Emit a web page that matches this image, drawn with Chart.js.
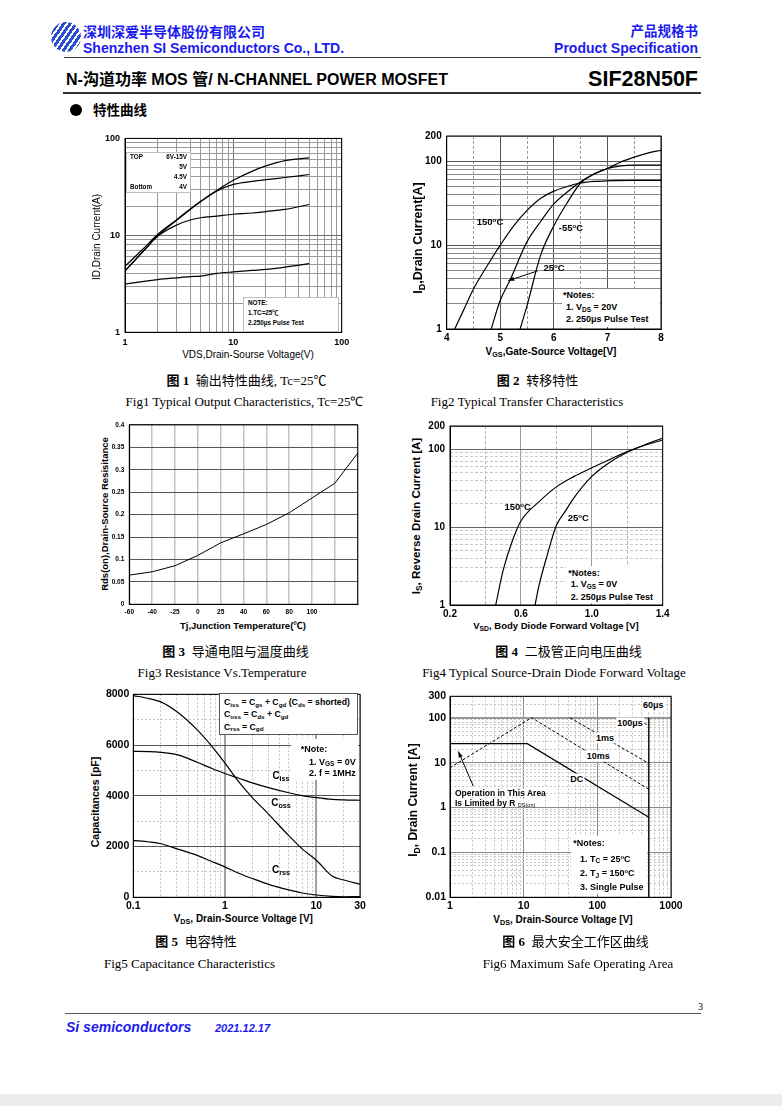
<!DOCTYPE html>
<html>
<head>
<meta charset="utf-8">
<script src="https://cdn.jsdelivr.net/npm/chart.js@4.4.1/dist/chart.umd.min.js"></script>
<style>
  body { margin: 0; background: #fff; }
  #page { position: relative; width: 782px; height: 1106px; overflow: hidden; font-family: 'Liberation Sans', Arial, 'Noto Sans CJK SC', sans-serif; color: #000; }
  sub { font-size: 0.72em; vertical-align: baseline; position: relative; top: 0.3em; }
  sup { font-size: 0.65em; vertical-align: baseline; position: relative; top: -0.5em; }
</style>
</head>
<body>
<div id="page"></div>
<script>
// ---- data ----
// Fig1 output characteristics (log-log)
const fig1Vds = [1, 1.5, 2, 3, 4, 5, 7, 10, 15, 20, 30, 50];
const fig1Id6V15V = [4.8, 7.4, 10.2, 14.5, 18.7, 22.5, 29, 37, 46, 52, 59, 63];
const fig1Id5V = [4.3, 7.0, 9.9, 14.3, 18.5, 22.3, 28.5, 33.5, 36, 37.5, 39.5, 42.4];
const fig1Id45V = [4.3, 7.0, 9.8, 12.8, 14.4, 15.2, 15.8, 16.5, 17.0, 17.6, 18.5, 20.8];
const fig1Id4V = [3.14, 3.35, 3.5, 3.65, 3.75, 3.8, 4.05, 4.2, 4.35, 4.45, 4.7, 5.1];
const fig1Ticks = [1, 10, 100];

// Fig2 transfer characteristics
const fig2Vgs150 = [4.15, 4.3, 4.5, 4.75, 5, 5.25, 5.5, 5.75, 6, 6.25, 6.5, 6.75, 7, 7.5, 8];
const fig2Id150 = [1, 1.6, 3.0, 5.6, 10, 17, 26, 36, 44, 50, 55, 57.5, 58.5, 59, 59];
const fig2Vgs25 = [4.83, 5, 5.18, 5.5, 5.75, 6, 6.25, 6.5, 6.75, 7, 7.25, 7.5, 8];
const fig2Id25 = [1, 2.2, 3.8, 11, 19, 31, 43, 57, 71, 82, 88, 90, 90];
const fig2VgsM55 = [5.37, 5.5, 5.75, 6, 6.25, 6.5, 6.75, 7, 7.25, 7.5, 7.75, 8];
const fig2IdM55 = [1, 1.9, 7.5, 17, 32, 55, 70, 82, 98, 112, 125, 135];
const fig2XTicks = [4, 5, 6, 7, 8];
const fig2XHalf = [4.5, 5.5, 6.5, 7.5];
const fig2YTicks = [1, 10, 100, 200];
const fig2ArrowV = [5.70, 5.15];
const fig2ArrowI = [4.94, 3.77];

// Fig3 resistance vs temperature
const fig3Temps = ['-60', '-40', '-25', '0', '25', '40', '60', '80', '100', '', ''];
const fig3Rds = [0.065, 0.0725, 0.086, 0.109, 0.137, 0.157, 0.178, 0.204, 0.237, 0.270, 0.337];
const fig3YTicks = [0, 0.05, 0.1, 0.15, 0.2, 0.25, 0.3, 0.35, 0.4];

// Fig4 body diode forward voltage
const fig4Vsd150 = [0.458, 0.5, 0.55, 0.6, 0.7, 0.8, 0.9, 1.0, 1.1, 1.2, 1.3, 1.4];
const fig4Is150 = [1, 2.8, 6.5, 12, 21, 33, 45, 58, 74, 94, 113, 132];
const fig4Vsd25 = [0.68, 0.7, 0.75, 0.8, 0.85, 0.9, 1.0, 1.1, 1.2, 1.25, 1.3, 1.4];
const fig4Is25 = [1, 1.7, 4.5, 10.5, 16, 24, 45, 68, 92, 103, 115, 140];
const fig4XTicks = [0.2, 0.6, 1.0, 1.4];
const fig4XMinor = [0.4, 0.8, 1.2];
const fig4YTicks = [1, 10, 100, 200];

// Fig5 capacitance
const fig5Vds = [0.1, 0.15, 0.2, 0.3, 0.5, 0.7, 1, 1.4, 2, 3, 5, 7, 10, 15, 20, 30];
const fig5Ciss = [5750, 5740, 5710, 5620, 5320, 5100, 4880, 4700, 4510, 4320, 4120, 4010, 3930, 3860, 3840, 3825];
const fig5Coss = [7950, 7830, 7700, 7310, 6600, 6010, 5300, 4580, 3930, 3280, 2430, 1910, 1460, 830, 680, 520];
const fig5Crss = [2240, 2180, 2110, 1910, 1650, 1430, 1200, 960, 740, 510, 290, 170, 90, 35, 20, 25];
const fig5XTicks = [0.1, 1, 10, 30];
const fig5YTicks = [0, 2000, 4000, 6000, 8000];
const fig5YMinor = [1000, 3000, 5000, 7000];

// Fig6 safe operating area
const fig6DcV = [1, 11.2, 500];
const fig6DcI = [26.5, 26.5, 0.61];
const fig6Ms10V = [1, 12.8, 500];
const fig6Ms10I = [7.7, 100, 2.56];
const fig6Ms1V = [42.5, 500];
const fig6Ms1I = [100, 9.6];
const fig6Us100V = [330, 500];
const fig6Us100I = [100, 66];
const fig6Us60V = [500, 500];
const fig6Us60I = [100, 0.01];
const fig6ArrowV = [2.07, 1.3];
const fig6ArrowI = [3.0, 17.7];
const fig6XTicks = [1, 10, 100, 1000];
const fig6YTicks = [0.01, 0.1, 1, 10, 100, 300];

// ---- helpers ----
const FONT = "'Liberation Sans', Arial, sans-serif";
const page = document.getElementById('page');
const has = (arr, v) => arr.some(a => Math.abs(a - v) <= 1e-9 * Math.max(1, Math.abs(a)));

function el(tag, css, html) {
  const d = document.createElement(tag);
  d.style.cssText = css;
  if (html != null) d.innerHTML = html;
  page.appendChild(d);
  return d;
}
function txt(x, y, html, css, anchor) {
  const tr = anchor === 'c' ? 'translate(-50%,-50%)' : anchor === 'r' ? 'translate(-100%,-50%)' : 'translate(0,-50%)';
  return el('div', `position:absolute;left:${x}px;top:${y}px;white-space:nowrap;line-height:1;transform:${tr};${css || ''}`, html);
}
function vtxt(x, y, html, css) {
  return el('div', `position:absolute;left:${x}px;top:${y}px;white-space:nowrap;line-height:1;transform:translate(-50%,-50%) rotate(-90deg);${css || ''}`, html);
}
function box(x, y, w, h, css) {
  return el('div', `position:absolute;left:${x}px;top:${y}px;width:${w}px;height:${h}px;box-sizing:border-box;${css || ''}`);
}

function logGrid(lo, hi) {
  const out = [];
  const e0 = Math.floor(Math.log10(lo) + 1e-9), e1 = Math.floor(Math.log10(hi) + 1e-9);
  for (let e = e0; e <= e1; e++) {
    for (let m = 1; m <= 9; m++) {
      const v = +(m * Math.pow(10, e)).toPrecision(6);
      if (v >= lo * (1 - 1e-9) && v <= hi * (1 + 1e-9)) out.push(v);
    }
  }
  return out;
}
const without = (arr, rm) => arr.filter(v => !has(rm, v));

function series(xs, ys, extra) {
  return Object.assign({
    data: xs.map((x, i) => ({ x: x, y: ys[i] })),
    borderColor: '#000', borderWidth: 1.2, pointRadius: 0, fill: false, tension: 0
  }, extra || {});
}
const smooth = { cubicInterpolationMode: 'monotone' };

function axisCfg(o) {
  return {
    type: o.type, position: o.pos, min: o.min, max: o.max,
    afterBuildTicks: s => { s.ticks = o.grid.map(v => ({ value: v })); },
    ticks: {
      autoSkip: false, maxRotation: 0, minRotation: 0, padding: o.pad, color: '#000',
      font: { family: FONT, size: o.fs, weight: 'bold' },
      callback: v => (has(o.labels, v) ? (o.fmt ? o.fmt(v) : String(v)) : '')
    },
    grid: {
      drawTicks: false,
      color: c => (c.tick && o.major && has(o.major, c.tick.value) ? o.majorColor : o.color),
      lineWidth: c => (c.tick && o.major && has(o.major, c.tick.value) ? (o.majorWidth || 1) : (o.width || 1))
    },
    border: { display: true, color: '#000', width: 1 },
    title: { display: false }
  };
}
function minorCfg(o) {
  return {
    type: o.type, position: o.pos, min: o.min, max: o.max, display: true,
    afterBuildTicks: s => { s.ticks = o.grid.map(v => ({ value: v })); },
    afterFit: s => { if (s.isHorizontal()) s.height = 0; else s.width = 0; },
    ticks: { display: false },
    grid: { drawTicks: false, color: o.color, lineWidth: 1 },
    border: { display: false, dash: o.dash || [2, 2] }
  };
}

const framePlugin = {
  id: 'frame',
  afterDatasetsDraw(chart) {
    const a = chart.chartArea, ctx = chart.ctx;
    ctx.save();
    ctx.strokeStyle = '#000';
    ctx.lineWidth = 1;
    ctx.strokeRect(a.left, a.top, a.right - a.left, a.bottom - a.top);
    ctx.restore();
  }
};
const arrowPlugin = {
  id: 'arrowHead',
  afterDatasetsDraw(chart) {
    const ctx = chart.ctx;
    chart.data.datasets.forEach((ds, i) => {
      if (!ds.arrowHead) return;
      const pts = chart.getDatasetMeta(i).data;
      const a = pts[pts.length - 2], b = pts[pts.length - 1];
      const ang = Math.atan2(b.y - a.y, b.x - a.x), L = 6, W = 2.2;
      const c = Math.cos(ang), s = Math.sin(ang);
      ctx.save();
      ctx.fillStyle = '#000';
      ctx.beginPath();
      ctx.moveTo(b.x, b.y);
      ctx.lineTo(b.x - L * c + W * s, b.y - L * s - W * c);
      ctx.lineTo(b.x - L * c - W * s, b.y - L * s + W * c);
      ctx.closePath();
      ctx.fill();
      ctx.restore();
    });
  }
};

function makeChart(g, cfg) {
  const w = g.box.r - g.box.l, h = g.box.b - g.box.t;
  const c = el('canvas', `position:absolute;left:${g.box.l}px;top:${g.box.t}px;width:${w}px;height:${h}px;`);
  c.width = w; c.height = h;
  const xs = g.box.b - g.area.B, ys = g.area.L - g.box.l;
  Object.values(cfg.options.scales).forEach(s => {
    if (!s.afterFit) s.afterFit = sc => { if (sc.isHorizontal()) sc.height = xs; else sc.width = ys; };
  });
  cfg.options.layout = { padding: { left: 0, bottom: 0, top: g.area.T - g.box.t, right: g.box.r - g.area.R } };
  cfg.options.responsive = false;
  cfg.options.animation = false;
  cfg.options.plugins = { legend: { display: false }, tooltip: { enabled: false } };
  cfg.plugins = [framePlugin, arrowPlugin];
  return new Chart(c, cfg);
}

// ---- page header ----
el('div', 'position:absolute;left:51px;top:22px;width:30px;height:30px;border-radius:50%;background:repeating-linear-gradient(125deg,#2b4fd0 0 3px,#ffffff 3px 5px);');
txt(83, 31, '深圳深爱半导体股份有限公司', "font-family:'Noto Sans CJK SC';font-weight:700;font-size:14px;color:#1b1bf0;");
txt(83, 47.5, 'Shenzhen SI Semiconductors Co., LTD.', 'font-weight:bold;font-size:14px;color:#1b1bf0;');
txt(698, 31, '产品规格书', "font-family:'Noto Sans CJK SC';font-weight:700;font-size:13.5px;color:#1b1bf0;", 'r');
txt(698, 48, 'Product Specification', 'font-weight:bold;font-size:14px;color:#1b1bf0;', 'r');
box(64, 56.5, 637, 1.3, 'background:#333;');
txt(66, 80, 'N-沟道功率 MOS 管/ N-CHANNEL POWER MOSFET', "font-weight:bold;font-size:16px;font-family:'Liberation Sans','Noto Sans CJK SC';");
txt(698, 80, 'SIF28N50F', 'font-weight:bold;font-size:21.5px;', 'r');
box(63, 91.5, 638, 2, 'background:#333;');
box(70, 104, 12, 12, 'background:#000;border-radius:50%;');
txt(93, 110, '特性曲线', "font-family:'Noto Sans CJK SC';font-weight:700;font-size:13.5px;");

// ---- Fig1 ----
makeChart({ box: { l: 100, t: 128, r: 356, b: 348 }, area: { L: 125, T: 137.7, R: 341.7, B: 332.3 } }, {
  type: 'line',
  data: { datasets: [
    series(fig1Vds, fig1Id6V15V, smooth), series(fig1Vds, fig1Id5V, smooth),
    series(fig1Vds, fig1Id45V, smooth), series(fig1Vds, fig1Id4V, smooth)
  ] },
  options: { scales: {
    x: axisCfg({ type: 'logarithmic', pos: 'bottom', min: 1, max: 100, grid: logGrid(1, 100), major: fig1Ticks, labels: fig1Ticks, fs: 9, pad: 5, color: '#999', majorColor: '#707070' }),
    y: axisCfg({ type: 'logarithmic', pos: 'left', min: 1, max: 100, grid: logGrid(1, 100), major: fig1Ticks, labels: fig1Ticks, fs: 9, pad: 5, color: '#999', majorColor: '#707070' })
  } }
});
vtxt(97, 237, 'ID,Drain Current(A)', 'font-size:10px;');
txt(248, 355, 'VDS,Drain-Sourse Voltage(V)', 'font-size:10px;', 'c');
box(125.7, 151.7, 65.3, 41.6, 'background:#fff;border:1px solid #bdbdbd;');
const lgS = 'font-weight:bold;font-size:6.3px;';
txt(130, 157, 'TOP', lgS); txt(187, 157, '6V-15V', lgS, 'r');
txt(187, 166.5, '5V', lgS, 'r'); txt(187, 176.5, '4.5V', lgS, 'r');
txt(130, 186.5, 'Bottom', lgS); txt(187, 186.5, '4V', lgS, 'r');
box(243.3, 296.7, 95.7, 35, 'background:#fff;border:1px solid #bdbdbd;');
txt(248, 303, 'NOTE:', lgS); txt(248, 312.5, '1.TC=25℃', lgS); txt(248, 323, '2.250μs Pulse Test', lgS);

// ---- Fig2 ----
makeChart({ box: { l: 425, t: 125, r: 672, b: 345 }, area: { L: 446.7, T: 133.3, R: 661, B: 329 } }, {
  type: 'line',
  data: { datasets: [
    series(fig2Vgs150, fig2Id150, smooth), series(fig2Vgs25, fig2Id25, smooth), series(fig2VgsM55, fig2IdM55, smooth),
    series(fig2ArrowV, fig2ArrowI, { borderWidth: 1, arrowHead: true })
  ] },
  options: { scales: {
    x: axisCfg({ type: 'linear', pos: 'bottom', min: 4, max: 8, grid: fig2XTicks, major: fig2XTicks, labels: fig2XTicks, fs: 10, pad: 3, color: '#555', majorColor: '#555' }),
    x2: minorCfg({ type: 'linear', pos: 'bottom', min: 4, max: 8, grid: fig2XHalf, color: '#9a9a9a', dash: [3, 2] }),
    y: axisCfg({ type: 'logarithmic', pos: 'left', min: 1, max: 200, grid: logGrid(1, 200), major: [1, 10, 100], labels: fig2YTicks, fs: 10, pad: 5, color: '#8a8a8a', majorColor: '#555' })
  } }
});
vtxt(418.3, 238, 'I<sub>D</sub>,Drain Current[A]', 'font-weight:bold;font-size:12.5px;');
txt(551, 351.7, 'V<sub>GS</sub>,Gate-Source Voltage[V]', 'font-weight:bold;font-size:10px;', 'c');
const lb = 'font-weight:bold;font-size:9.5px;';
txt(490, 222, '150<sup>o</sup>C', lb, 'c');
txt(571, 228, '-55<sup>o</sup>C', lb, 'c');
txt(554, 268, '25<sup>o</sup>C', lb, 'c');
box(562, 289, 98, 38, 'background:#fff;');
const nt = 'font-weight:bold;font-size:9px;';
txt(563, 295, '*Notes:', nt); txt(566, 306.7, '1. V<sub>DS</sub> = 20V', nt); txt(566, 318.5, '2. 250μs Pulse Test', nt);

// ---- Fig3 ----
makeChart({ box: { l: 112, t: 416, r: 366, b: 618 }, area: { L: 129.3, T: 424, R: 357.7, B: 604.3 } }, {
  type: 'line',
  data: { labels: fig3Temps, datasets: [series([], [], { data: fig3Rds, borderWidth: 1 })] },
  options: { scales: {
    x: {
      type: 'category', position: 'bottom', offset: false,
      ticks: { autoSkip: false, maxRotation: 0, padding: 4.5, color: '#000', font: { family: FONT, size: 6.5, weight: 'bold' } },
      grid: { drawTicks: false, offset: false, color: '#c4c4c4', lineWidth: 1.5 },
      border: { display: true, color: '#000', width: 1 }
    },
    y: axisCfg({ type: 'linear', pos: 'left', min: 0, max: 0.4, grid: fig3YTicks, major: fig3YTicks, labels: fig3YTicks, fs: 6.5, pad: 5, color: '#555', majorColor: '#555' })
  } }
});
vtxt(105, 514, 'Rds(on),Drain-Source Resisitance', 'font-weight:bold;font-size:9.5px;');
txt(243, 626, 'Tj,Junction Temperature(℃)', 'font-weight:bold;font-size:9.5px;', 'c');

// ---- Fig4 ----
makeChart({ box: { l: 425, t: 415, r: 675, b: 620 }, area: { L: 450, T: 423.3, R: 662.7, B: 605 } }, {
  type: 'line',
  data: { datasets: [series(fig4Vsd150, fig4Is150, smooth), series(fig4Vsd25, fig4Is25, smooth)] },
  options: { scales: {
    x: axisCfg({ type: 'linear', pos: 'bottom', min: 0.2, max: 1.4, grid: fig4XTicks, major: fig4XTicks, labels: fig4XTicks, fmt: v => v.toFixed(1), fs: 10, pad: 3, color: '#9a9a9a', majorColor: '#9a9a9a' }),
    x2: minorCfg({ type: 'linear', pos: 'bottom', min: 0.2, max: 1.4, grid: fig4XMinor, color: '#b5b5b5', dash: [3, 2] }),
    y: axisCfg({ type: 'logarithmic', pos: 'left', min: 1, max: 200, grid: fig4YTicks, major: [10, 100], labels: fig4YTicks, fs: 10, pad: 5, color: '#666', majorColor: '#666', majorWidth: 1 }),
    y2: minorCfg({ type: 'logarithmic', pos: 'left', min: 1, max: 200, grid: without(logGrid(1, 200), fig4YTicks), color: '#c8c8c8', dash: [3, 2] })
  } }
});
vtxt(416.7, 516, 'I<sub>S</sub>, Reverse Drain Current [A]', 'font-weight:bold;font-size:11.5px;');
txt(556, 625.7, 'V<sub>SD</sub>, Body Diode Forward Voltage [V]', 'font-weight:bold;font-size:9.5px;', 'c');
txt(517.7, 506.7, '150<sup>o</sup>C', lb, 'c');
txt(578.3, 518.3, '25<sup>o</sup>C', lb, 'c');
box(566, 566, 95, 37, 'background:#fff;');
txt(568.3, 572.7, '*Notes:', nt); txt(570.7, 584, '1. V<sub>GS</sub> = 0V', nt); txt(570.7, 596.7, '2. 250μs Pulse Test', nt);

// ---- Fig5 ----
makeChart({ box: { l: 105, t: 684, r: 372, b: 912 }, area: { L: 133.3, T: 692.3, R: 360, B: 897.3 } }, {
  type: 'line',
  data: { datasets: [series(fig5Vds, fig5Ciss, smooth), series(fig5Vds, fig5Coss, smooth), series(fig5Vds, fig5Crss, smooth)] },
  options: { scales: {
    x: axisCfg({ type: 'logarithmic', pos: 'bottom', min: 0.1, max: 30, grid: fig5XTicks, major: [1, 10], labels: fig5XTicks, fs: 10.5, pad: 3, color: '#999', majorColor: '#a0a0a0', majorWidth: 2 }),
    x2: minorCfg({ type: 'logarithmic', pos: 'bottom', min: 0.1, max: 30, grid: without(logGrid(0.1, 30), fig5XTicks), color: '#c2c2c2', dash: [2, 2] }),
    y: axisCfg({ type: 'linear', pos: 'left', min: 0, max: 8000, grid: fig5YTicks, major: fig5YTicks, labels: fig5YTicks, fs: 10.5, pad: 4, color: '#555', majorColor: '#555' }),
    y2: minorCfg({ type: 'linear', pos: 'left', min: 0, max: 8000, grid: fig5YMinor, color: '#c8c8c8', dash: [2, 2] })
  } }
});
vtxt(95, 802, 'Capacitances [pF]', 'font-weight:bold;font-size:10.5px;');
txt(243.3, 919.3, 'V<sub>DS</sub>, Drain-Source Voltage [V]', 'font-weight:bold;font-size:10px;', 'c');
box(219.3, 693.3, 139, 41.7, 'background:#fff;border:1px solid #555;');
const cs = 'font-weight:bold;font-size:8.7px;';
txt(224, 702, 'C<sub>iss</sub> = C<sub>gs</sub> + C<sub>gd</sub> (C<sub>ds</sub> = shorted)', cs);
txt(224, 714, 'C<sub>oss</sub> = C<sub>ds</sub> + C<sub>gd</sub>', cs);
txt(224, 726.5, 'C<sub>rss</sub> = C<sub>gd</sub>', cs);
box(291, 739, 67, 41, 'background:#fff;');
txt(300.7, 749.3, '*Note:', nt); txt(309, 761.5, '1. V<sub>GS</sub> = 0V', nt); txt(309, 773, '2. f = 1MHz', nt);
const cl = 'font-weight:bold;font-size:10px;';
txt(281, 776, 'C<sub>iss</sub>', cl, 'c');
txt(281, 803.3, 'C<sub>oss</sub>', cl, 'c');
txt(281, 869.5, 'C<sub>rss</sub>', cl, 'c');

// ---- Fig6 ----
makeChart({ box: { l: 425, t: 686, r: 690, b: 912 }, area: { L: 450, T: 694.3, R: 671, B: 897.3 } }, {
  type: 'line',
  data: { datasets: [
    series(fig6DcV, fig6DcI), series(fig6Ms10V, fig6Ms10I, { borderWidth: 1, borderDash: [3, 2] }),
    series(fig6Ms1V, fig6Ms1I, { borderWidth: 1, borderDash: [3, 2] }),
    series(fig6Us100V, fig6Us100I, { borderWidth: 1, borderDash: [3, 2] }),
    series(fig6Us60V, fig6Us60I, { borderWidth: 1.4 }),
    series(fig6ArrowV, fig6ArrowI, { borderWidth: 1, arrowHead: true })
  ] },
  options: { scales: {
    x: axisCfg({ type: 'logarithmic', pos: 'bottom', min: 1, max: 1000, grid: fig6XTicks, major: fig6XTicks, labels: fig6XTicks, fs: 10.5, pad: 3, color: '#8a8a8a', majorColor: '#8a8a8a' }),
    x2: minorCfg({ type: 'logarithmic', pos: 'bottom', min: 1, max: 1000, grid: without(logGrid(1, 1000), fig6XTicks), color: '#c4c4c4', dash: [2, 2] }),
    y: axisCfg({ type: 'logarithmic', pos: 'left', min: 0.01, max: 300, grid: fig6YTicks, major: [100], labels: fig6YTicks, fs: 10.5, pad: 4, color: '#8a8a8a', majorColor: '#999', majorWidth: 2 }),
    y2: minorCfg({ type: 'logarithmic', pos: 'left', min: 0.01, max: 300, grid: without(logGrid(0.01, 300), fig6YTicks), color: '#c8c8c8', dash: [2, 2] })
  } }
});
vtxt(413.3, 800, 'I<sub>D</sub>, Drain Current [A]', 'font-weight:bold;font-size:12px;');
txt(563, 920, 'V<sub>DS</sub>, Drain-Source Voltage [V]', 'font-weight:bold;font-size:10px;', 'c');
const sb = 'font-weight:bold;font-size:9px;background:#fff;padding:1px 1px;';
txt(653.3, 705, '60μs', sb, 'c');
txt(630, 723.3, '100μs', sb, 'c');
txt(605, 738.3, '1ms', sb, 'c');
txt(598.3, 756, '10ms', sb, 'c');
txt(576.7, 779.3, 'DC', sb, 'c');
txt(455, 792.5, 'Operation in This Area', 'font-weight:bold;font-size:8.5px;background:#fff;');
txt(455, 802.5, 'Is Limited by R <span style="font-size:0.65em;font-weight:normal;position:relative;top:0.3em;">DS(on)</span>', 'font-weight:bold;font-size:8.5px;background:#fff;');
box(571, 836, 76, 58, 'background:#fff;');
txt(573.3, 843.3, '*Notes:', nt);
txt(580, 858.5, '1. T<sub>C</sub> = 25<sup>o</sup>C', nt);
txt(580, 873, '2. T<sub>J</sub> = 150<sup>o</sup>C', nt);
txt(580, 887, '3. Single Pulse', nt);

// ---- captions ----
const capC = "font-family:'Liberation Serif','Noto Sans CJK SC';font-size:13px;";
const capE = "font-family:'Liberation Serif';font-size:13px;";
txt(246.5, 380, '<b>图 1</b>&nbsp; 输出特性曲线, Tc=25℃', capC, 'c');
txt(244.5, 401, 'Fig1 Typical Output Characteristics, Tc=25℃', capE, 'c');
txt(537.5, 380, '<b>图 2</b>&nbsp; 转移特性', capC, 'c');
txt(527, 401, 'Fig2 Typical Transfer Characteristics', capE, 'c');
txt(235.5, 651, '<b>图 3</b>&nbsp; 导通电阻与温度曲线', capC, 'c');
txt(222, 672, 'Fig3 Resistance Vs.Temperature', capE, 'c');
txt(568.5, 651, '<b>图 4</b>&nbsp; 二极管正向电压曲线', capC, 'c');
txt(554, 672, 'Fig4 Typical Source-Drain Diode Forward Voltage', capE, 'c');
txt(196, 941, '<b>图 5</b>&nbsp; 电容特性', capC, 'c');
txt(189.5, 963, 'Fig5 Capacitance Characteristics', capE, 'c');
txt(575.5, 941, '<b>图 6</b>&nbsp; 最大安全工作区曲线', capC, 'c');
txt(578, 963, 'Fig6 Maximum Safe Operating Area', capE, 'c');

// ---- footer ----
txt(703, 1007, '3', "font-family:'Liberation Serif';font-size:10px;", 'r');
box(65, 1012.5, 636, 1.4, 'background:#555;');
txt(66, 1027, 'Si semiconductors', 'font-weight:bold;font-style:italic;font-size:14px;color:#1b1bf0;');
txt(215, 1027.5, '2021.12.17', 'font-weight:bold;font-style:italic;font-size:11px;color:#1b1bf0;');
box(0, 1094, 782, 12, 'background:#ececec;');
</script>
</body>
</html>
